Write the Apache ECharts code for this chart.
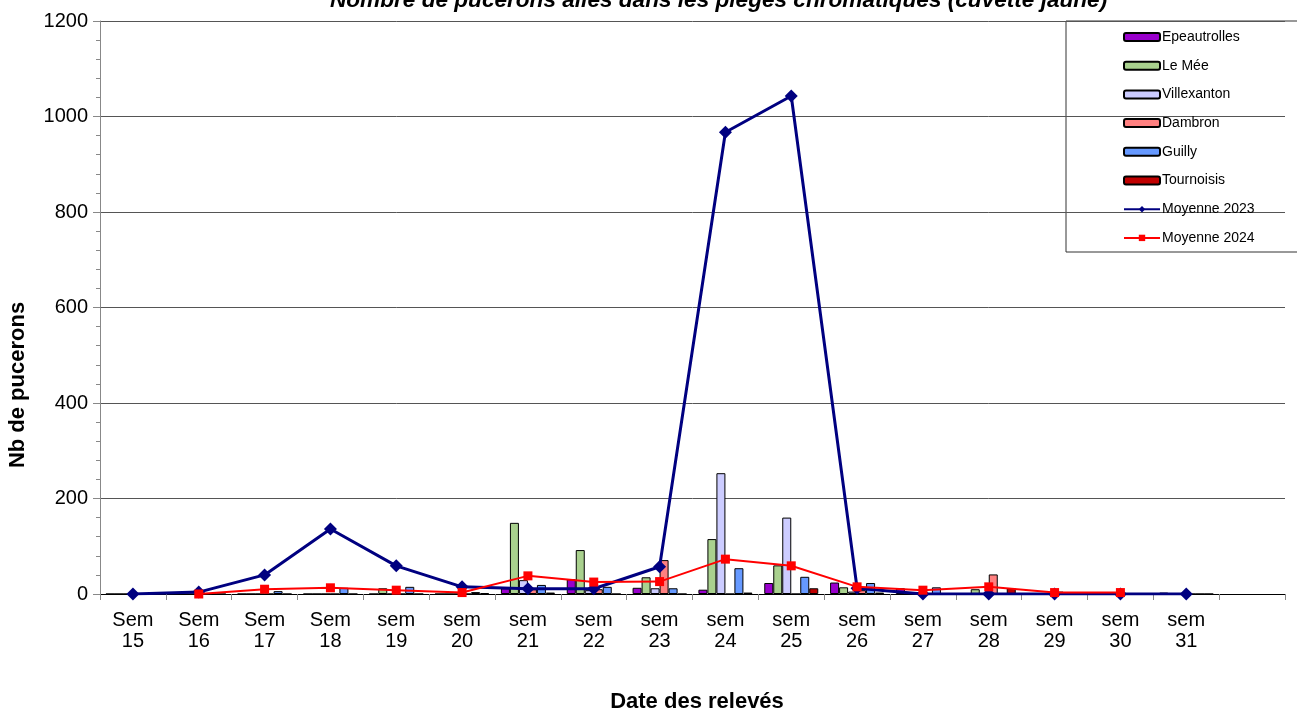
<!DOCTYPE html>
<html>
<head>
<meta charset="utf-8">
<script src="https://cdn.jsdelivr.net/npm/echarts@6/dist/echarts.min.js"></script>
<style>
	html, body { margin: 0; padding: 0; background: #fff; }
	#chart { width: 1297px; height: 711px; }
</style>
</head>
<body>
<div id="chart"></div>
<script type="text/javascript">
	// semaines de relevé
	var categories = ['Sem\n15', 'Sem\n16', 'Sem\n17', 'Sem\n18', 'sem\n19', 'sem\n20', 'sem\n21', 'sem\n22', 'sem\n23',
		'sem\n24', 'sem\n25', 'sem\n26', 'sem\n27', 'sem\n28', 'sem\n29', 'sem\n30', 'sem\n31', ''];
	var yTicks = [0, 200, 400, 600, 800, 1000, 1200];

	// nombre de pucerons par site
	var epeautrolles = [0, 0, 0, 0, 0, 0, 12, 31, 13, 9, 23, 24, 12, 0, 0, 0, 3, null];
	var leMee        = [0, 0, 0, 0, 12, 0, 149, 92, 35, 115, 60, 14, 0, 10, 0, 0, 0, null];
	var villexanton  = [0, 0, 0, 0, 0, 0, 29, 8, 12, 253, 160, 5, 0, 0, 0, 3, 0, null];
	var dambron      = [0, 0, 0, 0, 0, 0, 10, 10, 71, 0, 0, 8, 0, 41, 5, 0, 0, null];
	var guilly       = [0, 0, 6, 13, 15, 4, 19, 15, 12, 54, 36, 23, 14, 0, 0, 0, 0, null];
	var tournoisis   = [0, 0, 0, 0, 0, 2, 3, 0, 0, 3, 12, 3, 0, 12, 0, 0, 0, null];

	// moyennes
	var moyenne2023 = [0, 4, 40, 136, 59, 15, 11, 11, 57, 967, 1043, 12, 0, 0, 0, 0, 0, null];
	var moyenne2024 = [null, 0, 10, 13, 8, 3, 38, 25, 26, 73, 59, 15, 8, 15, 3, 3, null, null];

	var police = 'Liberation Sans, Arial, sans-serif';

	function barre(nom, couleur, valeurs) {
		return {
			name : nom,
			type : 'bar',
			barWidth : 9,
			barGap : '0%',
			data : valeurs,
			itemStyle : {
				color : couleur,
				borderColor : '#000',
				borderWidth : 1
			}
		};
	}

	var option = {
		animation : false,
		title : {
			text : 'Nombre de pucerons ailés dans les pièges chromatiques (cuvette jaune)',
			left : 325,
			top : -16,
			textStyle : {
				fontFamily : police,
				fontSize : 22.6,
				fontWeight : 'bold',
				fontStyle : 'italic',
				color : '#000'
			}
		},
		legend : {
			orient : 'vertical',
			left : 1118,
			top : 24,
			itemWidth : 36,
			itemHeight : 8,
			itemGap : 12.7,
			data : ['Epeautrolles', 'Le Mée', 'Villexanton', 'Dambron', 'Guilly', 'Tournoisis', 'Moyenne 2023', 'Moyenne 2024'],
			textStyle : {
				fontFamily : police,
				fontSize : 14,
				lineHeight : 16,
				color : '#000',
				padding : [0, 0, 0, -3]
			}
		},
		grid : {
			left : 100,
			right : 12,
			top : 21,
			bottom : 117
		},
		xAxis : {
			type : 'category',
			data : categories,
			axisLine : { lineStyle : { color : '#000', width : 1 } },
			axisTick : { show : true, length : 6, lineStyle : { color : '#888' } },
			axisLabel : {
				fontFamily : police,
				fontSize : 20,
				lineHeight : 21,
				color : '#000',
				margin : 16,
				interval : 0
			}
		},
		yAxis : {
			type : 'value',
			min : 0,
			max : 1200,
			interval : 200,
			axisLine : { show : true, lineStyle : { color : '#888' } },
			axisTick : { show : true, length : 7, lineStyle : { color : '#888' } },
			minorTick : { show : true, splitNumber : 5, length : 4, lineStyle : { color : '#888' } },
			splitLine : { lineStyle : { color : '#555', width : 1 } },
			axisLabel : {
				fontFamily : police,
				fontSize : 20,
				color : '#000',
				margin : 12,
				formatter : function(v) {
					return yTicks.indexOf(v) >= 0 ? String(v) : '';
				}
			}
		},
		graphic : [ {
			type : 'rect',
			shape : { x : 1066, y : 21, width : 240, height : 231 },
			style : { fill : '#fff', stroke : '#333', lineWidth : 1 },
			z : 0
		}, {
			type : 'text',
			x : 18,
			y : 385,
			rotation : Math.PI / 2,
			style : {
				text : 'Nb de pucerons',
				fontFamily : police,
				fontSize : 22,
				fontWeight : 'bold',
				fill : '#000',
				textAlign : 'center',
				textVerticalAlign : 'middle'
			}
		}, {
			type : 'text',
			x : 697,
			y : 702,
			style : {
				text : 'Date des relevés',
				fontFamily : police,
				fontSize : 22,
				fontWeight : 'bold',
				fill : '#000',
				textAlign : 'center',
				textVerticalAlign : 'middle'
			}
		} ],
		series : [
			barre('Epeautrolles', '#9900CC', epeautrolles),
			barre('Le Mée', '#A9D18E', leMee),
			barre('Villexanton', '#CCCCFF', villexanton),
			barre('Dambron', '#FF8080', dambron),
			barre('Guilly', '#6699FF', guilly),
			barre('Tournoisis', '#C00000', tournoisis),
			{
				name : 'Moyenne 2023',
				type : 'line',
				data : moyenne2023,
				symbol : 'diamond',
				symbolSize : 13,
				lineStyle : { color : '#000080', width : 3 },
				itemStyle : { color : '#000080' },
				z : 5
			},
			{
				name : 'Moyenne 2024',
				type : 'line',
				data : moyenne2024,
				symbol : 'rect',
				symbolSize : 9,
				lineStyle : { color : '#FF0000', width : 2 },
				itemStyle : { color : '#FF0000' },
				z : 6
			}
		]
	};

	var chart = echarts.init(document.getElementById('chart'));
	chart.setOption(option);
</script>
</body>
</html>
